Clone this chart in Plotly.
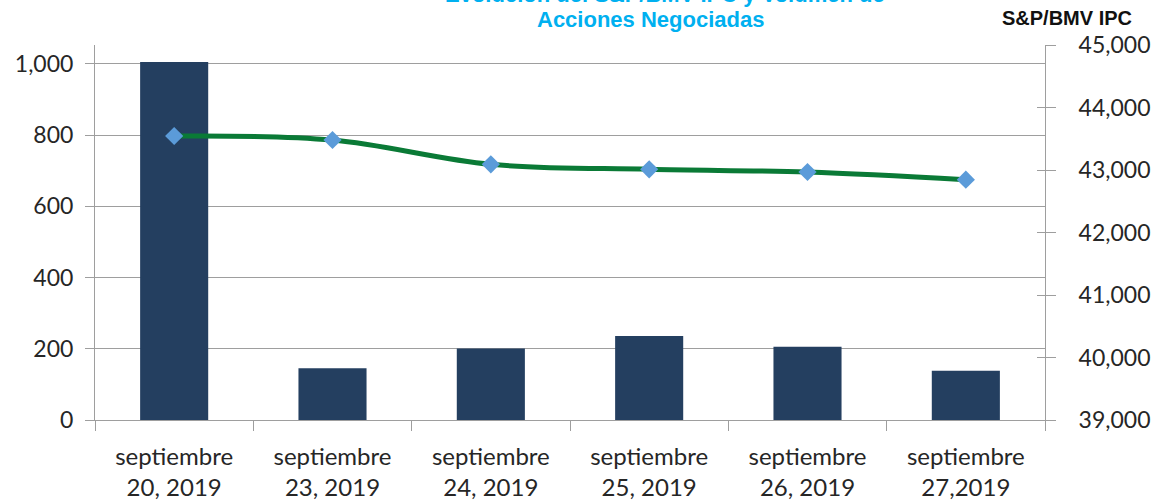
import plotly.graph_objects as go

categories = ["septiembre<br>20, 2019", "septiembre<br>23, 2019", "septiembre<br>24, 2019",
              "septiembre<br>25, 2019", "septiembre<br>26, 2019", "septiembre<br>27,2019"]
volumen = [1005, 145, 201, 236, 206, 138]
ipc = [43544, 43480, 43091, 43011, 42968, 42845]

left_ticks = [0, 200, 400, 600, 800, 1000]
right_ticks = [39000, 40000, 41000, 42000, 43000, 44000, 45000]

W, H = 1152, 502
ML, MR, MT, MB = 95, 107, 45, 82
plot_h = H - MT - MB
plot_w = W - ML - MR

def py(p):
    return (H - MB - p) / plot_h

def px(p):
    return (p - ML) / plot_w

axis_col = "#9E9E9E"
y_font = dict(family="Lato, Carlito, sans-serif", size=23, color="#262626")
x_font = dict(family="Lato, Carlito, sans-serif", size=24, color="#262626")

fig = go.Figure()
fig.add_trace(go.Bar(x=categories, y=volumen, marker=dict(color="#243F60", line=dict(width=0)),
                     width=0.43, yaxis="y", showlegend=False))
fig.add_trace(go.Scatter(x=categories, y=ipc, yaxis="y2", mode="lines+markers",
                         line=dict(color="#0A7A36", width=5, shape="spline", smoothing=1.0),
                         marker=dict(symbol="diamond", size=14, color="#5B9BD9",
                                     line=dict(width=0)),
                         showlegend=False))
fig.add_trace(go.Scatter(x=categories, y=ipc, yaxis="y3", mode="lines",
                         line=dict(width=0), opacity=0, hoverinfo="skip", showlegend=False))

fig.update_layout(
    width=W, height=H,
    margin=dict(l=ML, r=MR, t=MT, b=MB, autoexpand=False),
    paper_bgcolor="white", plot_bgcolor="white",
    bargap=0.57,
    xaxis=dict(type="category", range=[-0.5, 5.5], showline=True, linecolor=axis_col, linewidth=1,
               ticks="outside", ticklen=10, tickcolor=axis_col, tickson="boundaries",
               showgrid=False, tickfont=x_font, ticklabelstandoff=15, automargin=False),
    yaxis=dict(range=[0, 1053], tickvals=left_ticks, tickformat=",", showline=True,
               linecolor=axis_col, linewidth=1, ticks="outside", ticklen=9, tickcolor=axis_col,
               showgrid=True, gridcolor=axis_col, gridwidth=1, zeroline=False,
               tickfont=y_font, ticklabelstandoff=7, automargin=False),
    yaxis2=dict(range=[39000, 45000], tickvals=right_ticks, tickformat=",", overlaying="y",
                side="right", showline=True, linecolor=axis_col, linewidth=1, ticks="outside",
                ticklen=10, tickcolor=axis_col, showgrid=False, zeroline=False,
                tickfont=y_font, ticklabelstandoff=18, automargin=False),
    yaxis3=dict(range=[39000, 45000], tickvals=right_ticks, overlaying="y", side="right",
                anchor="x", showline=False, ticks="inside", ticklen=8, tickcolor=axis_col,
                showticklabels=False, showgrid=False, zeroline=False, automargin=False),
)

title_font = dict(family="Liberation Sans, Arial, sans-serif", size=22, color="#00B0F0")
fig.add_annotation(text="<b>Evolución del S&P/BMV IPC y Volumen de</b>", xref="paper", yref="paper",
                   x=px(665), y=py(-6), xanchor="center", yanchor="middle", showarrow=False,
                   font=title_font)
fig.add_annotation(text="<b>Acciones Negociadas</b>", xref="paper", yref="paper",
                   x=px(650), y=py(19), xanchor="center", yanchor="middle", showarrow=False,
                   font=title_font)
fig.add_annotation(text="<b>S&P/BMV IPC</b>", xref="paper", yref="paper",
                   x=px(1067), y=py(18), xanchor="center", yanchor="middle", showarrow=False,
                   font=dict(family="Liberation Sans, Arial, sans-serif", size=20, color="#111111"))

fig.write_html("out.html", config={"displayModeBar": False},
               post_script="document.body.style.margin='0';")
